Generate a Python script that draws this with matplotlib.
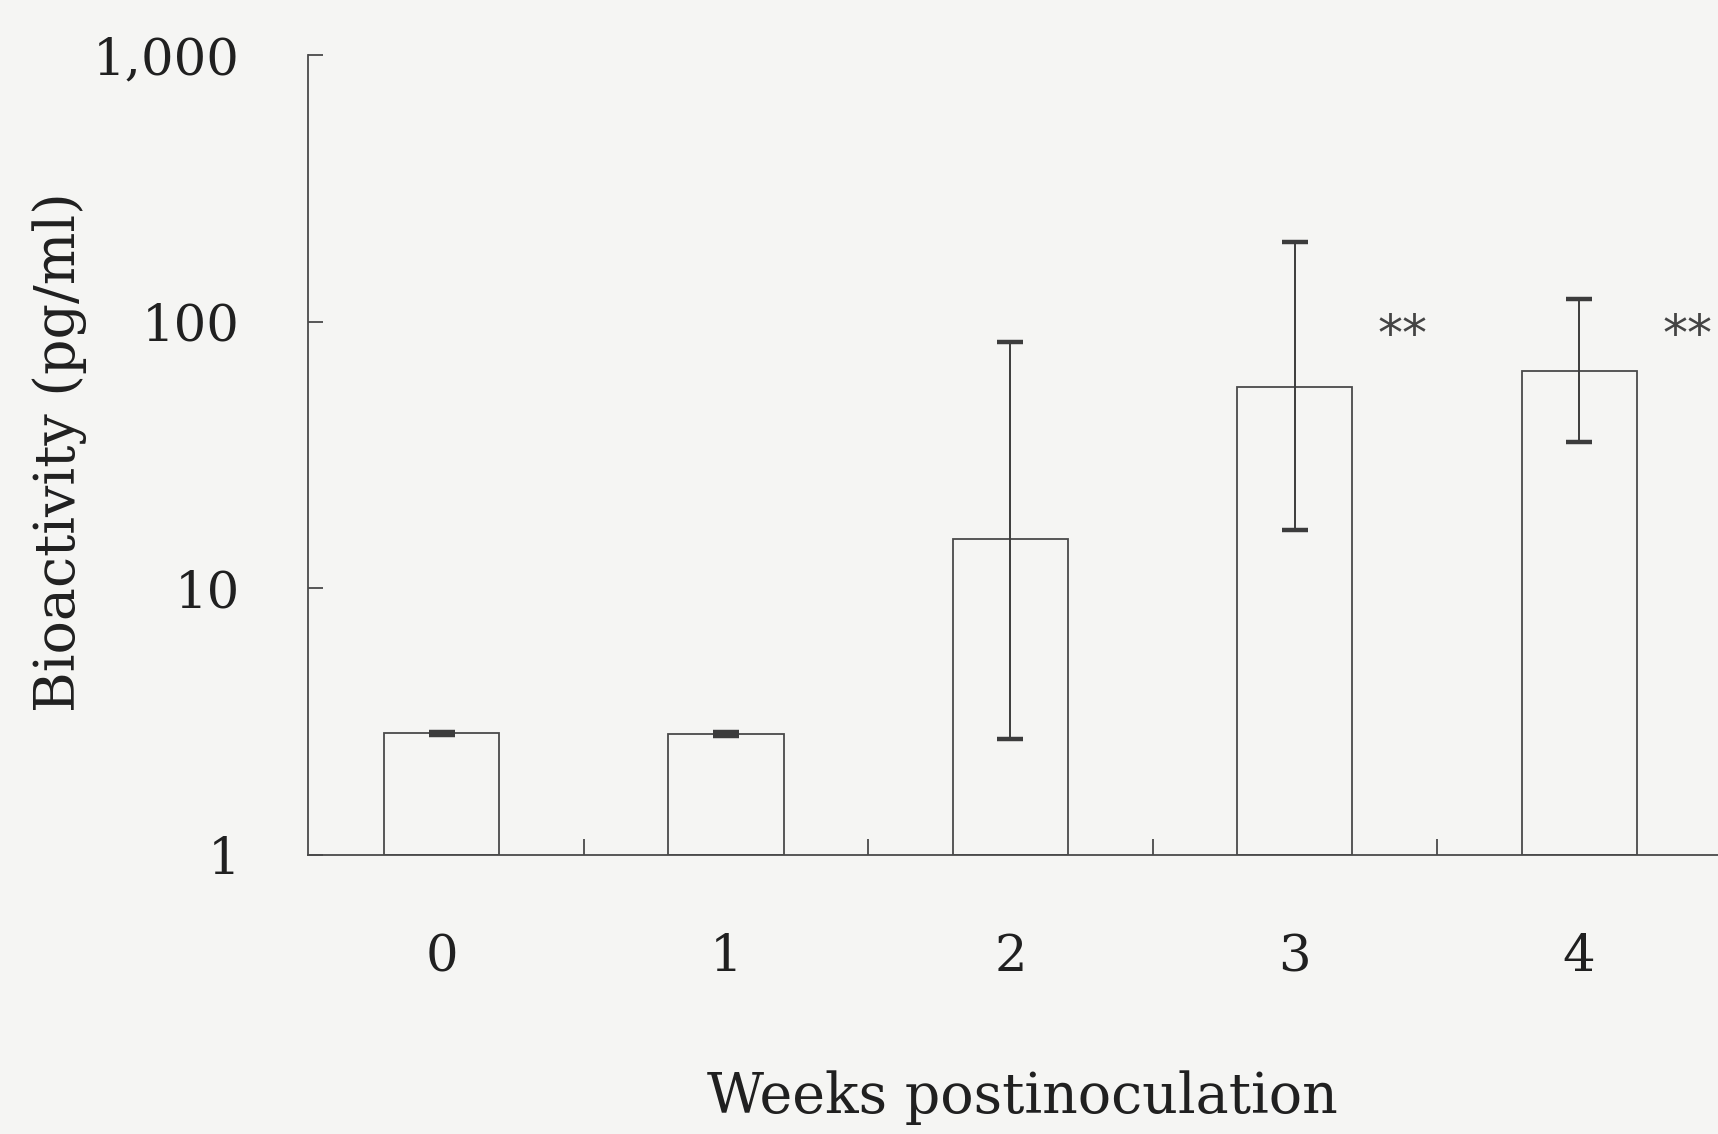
import matplotlib
matplotlib.use('Agg')
import matplotlib.pyplot as plt
from matplotlib.ticker import NullLocator, FixedLocator
import numpy as np

# ---- data ----
weeks = [0, 1, 2, 3, 4]
week_labels = ['0', '1', '2', '3', '4']
means = [2.86, 2.84, 15.3, 56.9, 65.4]
err_upper = [2.90, 2.88, 84.0, 199.0, 122.0]
err_lower = [2.82, 2.80, 2.72, 16.6, 35.5]
sig_marks = ['', '', '', '**', '**']
y_ticks = [1, 10, 100, 1000]
y_tick_labels = ['1', '10', '100', '1,000']

bg = '#f5f5f3'
ink = '#3c3c3c'
text_c = '#202020'
plt.rcParams['font.family'] = ['DejaVu Serif']

W, H = 1718, 1134
fig = plt.figure(figsize=(W / 100, H / 100), dpi=100, facecolor=bg)
left_px, right_px, top_px, bot_px = 308, 1735.5, 55, 855
ax = fig.add_axes([left_px / W, (H - bot_px) / H, (right_px - left_px) / W, (bot_px - top_px) / H])
ax.set_facecolor(bg)
ax.set_yscale('log')

m = np.array(means)
ax.bar(weeks, m - 1, bottom=1, width=0.405, color=bg, edgecolor='#4a4a4a',
       linewidth=1.3, zorder=2)
yerr = [m - np.array(err_lower), np.array(err_upper) - m]
ax.errorbar(weeks, m, yerr=yerr, fmt='none', ecolor=ink, elinewidth=1.4,
            capsize=9.6, capthick=3.2, zorder=3)

for x, s in zip(weeks, sig_marks):
    if s:
        ax.text(x + 0.38, 88, s, ha='center', va='center', fontsize=36,
                family='DejaVu Sans', color='#444444', zorder=4)

ax.set_xlim(-0.47, 4.55)
ax.set_ylim(1, 1000)

for sp in ['top', 'right']:
    ax.spines[sp].set_visible(False)
for sp in ['left', 'bottom']:
    ax.spines[sp].set_color('#4a4a4a')
    ax.spines[sp].set_linewidth(1.3)

ax.yaxis.set_major_locator(FixedLocator(y_ticks))
ax.set_yticklabels(y_tick_labels)
ax.yaxis.set_minor_locator(NullLocator())
ax.tick_params(axis='y', which='major', direction='in', length=10.5, width=1.3,
               color='#4a4a4a', labelsize=37, pad=49, labelcolor=text_c)

ax.set_xticks(weeks)
ax.set_xticklabels(week_labels)
ax.xaxis.set_minor_locator(FixedLocator(list(np.array(weeks) + 0.5)))
ax.tick_params(axis='x', which='major', length=0, labelsize=37, pad=56,
               labelcolor=text_c)
ax.tick_params(axis='x', which='minor', direction='in', length=11.5, width=1.3,
               color='#4a4a4a')

fig.text(60 / W, (H - 452) / H, 'Bioactivity (pg/ml)', rotation=90,
         ha='center', va='center', fontsize=40, color=text_c)
fig.text(1022 / W, (H - 1098) / H, 'Weeks postinoculation',
         ha='center', va='center', fontsize=40, color=text_c)

fig.savefig('out.png', dpi=100, facecolor=bg)
